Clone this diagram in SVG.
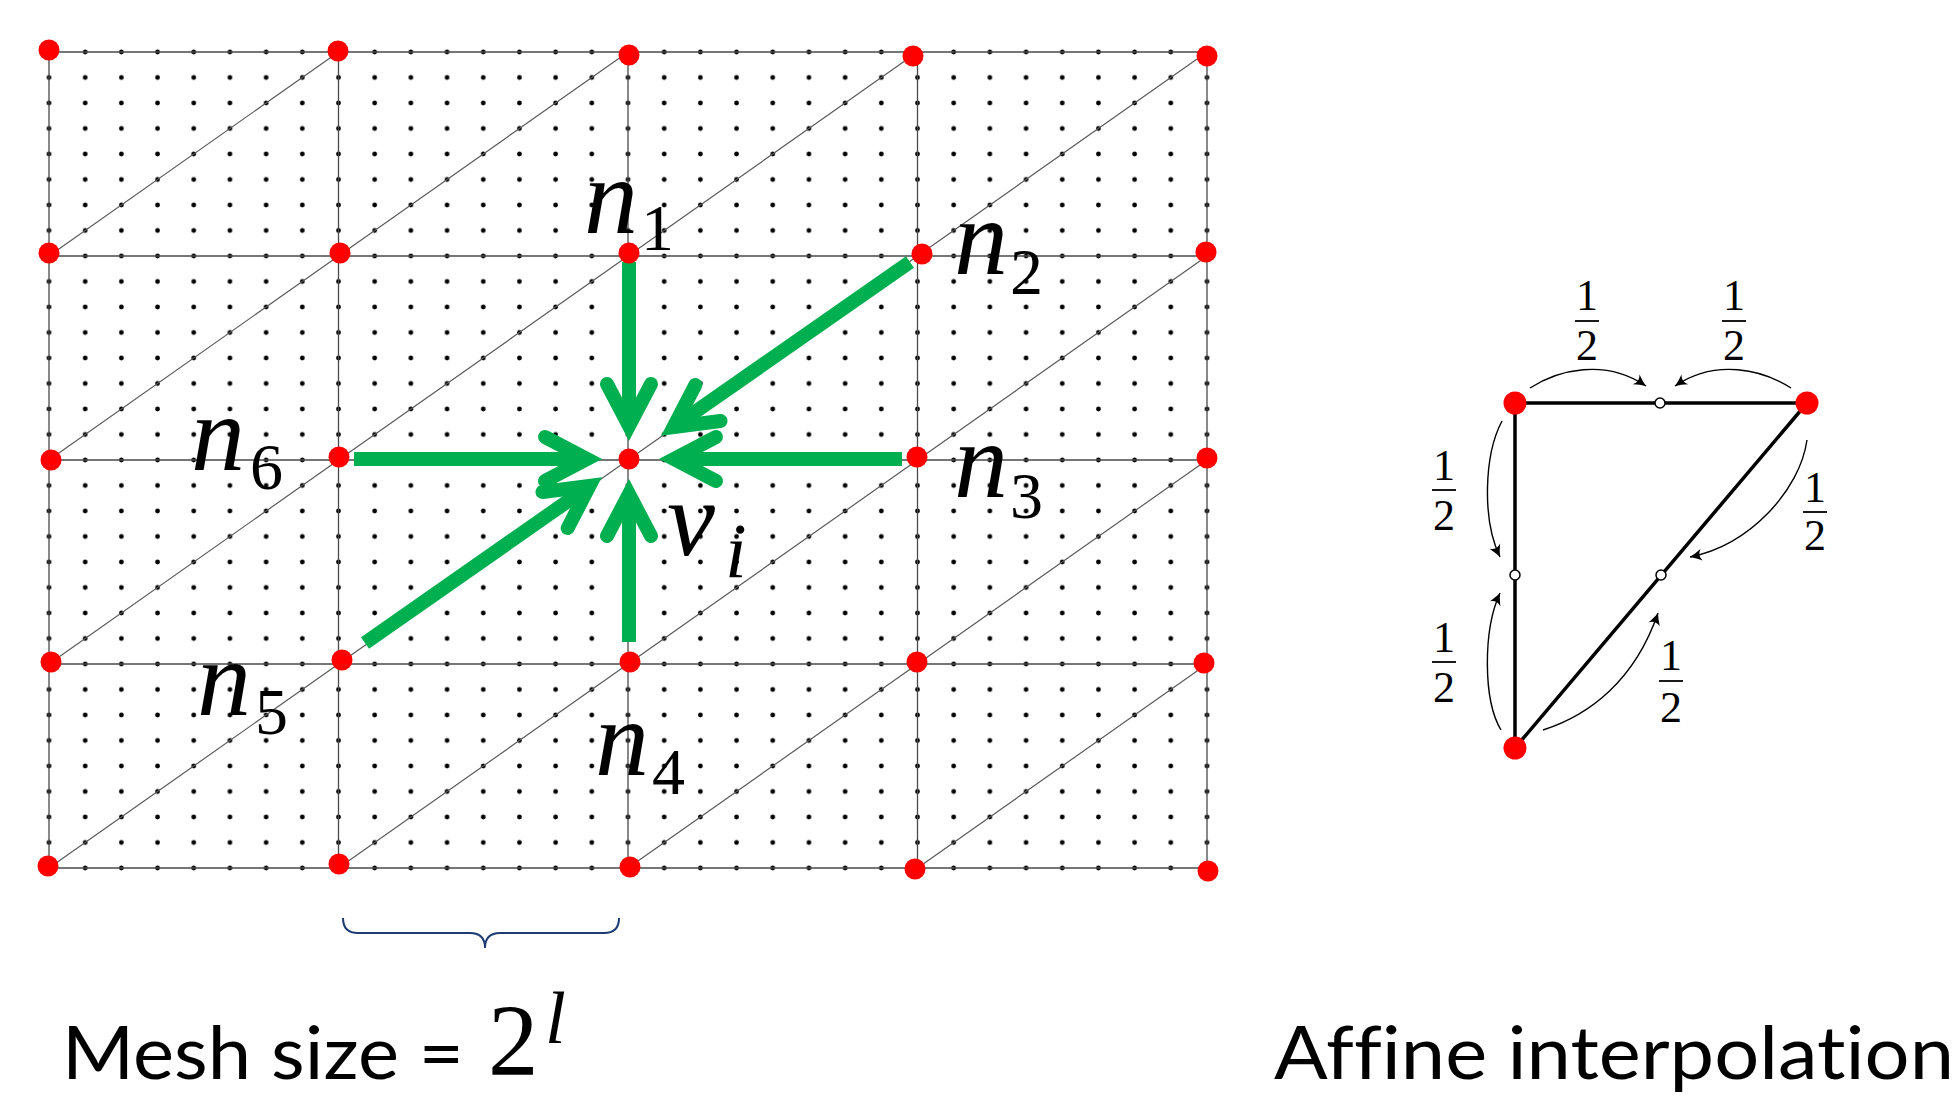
<svg xmlns="http://www.w3.org/2000/svg" width="1960" height="1097" viewBox="0 0 1960 1097">
<style>
.grid{stroke:#4a4a4a;stroke-width:1.3;fill:none}
.diag{stroke:#5a5a5a;stroke-width:1.2;fill:none}
.rd{fill:#FF0000}
.arr{stroke:#00B050;stroke-width:14;fill:none;marker-end:url(#ga)}
.mi{font-family:"Liberation Serif",serif;font-style:italic;font-size:108px;fill:#000}
.sub{font-family:"Liberation Serif",serif;font-size:66px;fill:#000}
.subi{font-family:"Liberation Serif",serif;font-style:italic;font-size:78px;fill:#000}
.frac{font-family:"Liberation Serif",serif;font-size:44px;text-anchor:middle;fill:#000}
.fbar{stroke:#000;stroke-width:1.8}
.tri{stroke:#000;stroke-width:3.5;fill:none}
.mid{fill:#fff;stroke:#000;stroke-width:1.5}
.arc{stroke:#000;stroke-width:1.4;fill:none;marker-end:url(#ka)}
.cap{font-family:Lato,"Open Sans","Liberation Sans",sans-serif;font-size:74px;fill:#000;font-variant-ligatures:none;font-feature-settings:"liga" 0,"dlig" 0,"clig" 0}
</style>
<defs>
<pattern id="dots" patternUnits="userSpaceOnUse" x="30.906" y="39.25" width="36.1875" height="25.5">
<circle cx="18.094" cy="12.75" r="2.4" fill="#000"/>
</pattern>
<marker id="ga" markerUnits="userSpaceOnUse" refX="0" refY="0" markerWidth="120" markerHeight="120" orient="auto" overflow="visible">
<path d="M-42,-22 L0,0 L-42,22" fill="none" stroke="#00B050" stroke-width="14" stroke-linecap="round" stroke-linejoin="miter" stroke-miterlimit="6"/>
</marker>
<marker id="ka" markerUnits="userSpaceOnUse" refX="0" refY="0" markerWidth="30" markerHeight="30" orient="auto" overflow="visible">
<path d="M0,0 C-4,-1.5 -8,-3.5 -12,-6 C-9,-2 -9,2 -12,6 C-8,3.5 -4,1.5 0,0 Z" fill="#000"/>
</marker>
</defs>
<rect width="1960" height="1097" fill="#fff"/>

<g id="mesh">
<rect x="30.906" y="39.25" width="1194.19" height="841.5" fill="url(#dots)"/>
<path class="grid" d="M49,52V868M338.5,52V868M628,52V868M917.5,52V868M1207,52V868M49,52H1207M49,256H1207M49,460H1207M49,664H1207M49,868H1207"/>
<path class="diag" d="M49,256L338.5,52M338.5,256L628,52M628,256L917.5,52M917.5,256L1207,52
M49,460L338.5,256M338.5,460L628,256M628,460L917.5,256M917.5,460L1207,256
M49,664L338.5,460M338.5,664L628,460M628,664L917.5,460M917.5,664L1207,460
M49,868L338.5,664M338.5,868L628,664M628,868L917.5,664M917.5,868L1207,664"/>
</g>

<g id="connectors">
<path class="arr" d="M629,262 L629,426"/>
<path class="arr" d="M910,262 L673.5,427"/>
<path class="arr" d="M902,459 L674,459"/>
<path class="arr" d="M629,642 L629,494"/>
<path class="arr" d="M365,643 L589.5,486"/>
<path class="arr" d="M354,459 L587,459"/>
</g>

<g id="vertices">
<g id="p00"><circle class="rd" cx="49" cy="50" r="10.5"/></g>
<g id="p10"><circle class="rd" cx="338" cy="51" r="10.5"/></g>
<g id="p20"><circle class="rd" cx="629" cy="55" r="10.5"/></g>
<g id="p30"><circle class="rd" cx="913" cy="56" r="10.5"/></g>
<g id="p40"><circle class="rd" cx="1207" cy="56" r="10.5"/></g>
<g id="p01"><circle class="rd" cx="49" cy="253" r="10.5"/></g>
<g id="p11"><circle class="rd" cx="340" cy="253" r="10.5"/></g>
<g id="p41"><circle class="rd" cx="1206" cy="252" r="10.5"/></g>
<g id="p02"><circle class="rd" cx="51" cy="460" r="10.5"/></g>
<g id="p42"><circle class="rd" cx="1207" cy="458" r="10.5"/></g>
<g id="p03"><circle class="rd" cx="51" cy="662" r="10.5"/></g>
<g id="p33"><circle class="rd" cx="917" cy="662" r="10.5"/></g>
<g id="p43"><circle class="rd" cx="1204" cy="663" r="10.5"/></g>
<g id="p04"><circle class="rd" cx="48" cy="866" r="10.5"/></g>
<g id="p14"><circle class="rd" cx="339" cy="864" r="10.5"/></g>
<g id="p24"><circle class="rd" cx="630" cy="867" r="10.5"/></g>
<g id="p34"><circle class="rd" cx="915" cy="869" r="10.5"/></g>
<g id="p44"><circle class="rd" cx="1208" cy="871" r="10.5"/></g>
</g>

<g id="node-n1"><circle class="rd" cx="629" cy="253" r="10.5"/><text class="mi" x="584" y="233">n</text><text class="sub" x="641" y="250">1</text></g>
<g id="node-n2"><circle class="rd" cx="922" cy="254" r="10.5"/><text class="mi" x="954" y="274">n</text><text class="sub" x="1010" y="294">2</text></g>
<g id="node-n3"><circle class="rd" cx="917" cy="457" r="10.5"/><text class="mi" x="954" y="497">n</text><text class="sub" x="1010" y="518">3</text></g>
<g id="node-n4"><circle class="rd" cx="630" cy="662" r="10.5"/><text class="mi" x="595" y="775">n</text><text class="sub" x="652" y="794">4</text></g>
<g id="node-n5"><circle class="rd" cx="342" cy="660" r="10.5"/><text class="mi" x="197" y="715">n</text><text class="sub" x="255" y="734">5</text></g>
<g id="node-n6"><circle class="rd" cx="339" cy="457" r="10.5"/><text class="mi" x="191" y="470">n</text><text class="sub" x="250" y="489">6</text></g>
<g id="node-vi"><circle class="rd" cx="629" cy="459" r="10.5"/><text class="mi" x="667" y="555">v</text><text class="subi" x="725" y="577">i</text></g>

<g id="brace"><path d="M343,918 Q343,933 358,933 L470,933 Q485,933 485,948 Q485,933 500,933 L604,933 Q619,933 619,918" fill="none" stroke="#1F3B73" stroke-width="2"/></g>

<g id="caption-mesh">
<text class="cap" x="62" y="1079" textLength="402" lengthAdjust="spacingAndGlyphs">Mesh size =</text>
<text x="488" y="1075" font-family="'Liberation Serif',serif" font-size="101">2</text>
<text x="545" y="1043" font-family="'Liberation Serif',serif" font-style="italic" font-size="75">l</text>
</g>

<g id="affine">
<g id="tri-edges">
<path class="tri" d="M1515,403 L1807,403 M1515,403 L1515,748 L1807,403"/>
</g>
<g id="tri-arcs">
<path class="arc" d="M1530,388 C1558,370 1605,358 1646,386"/>
<path class="arc" d="M1791,388 C1763,370 1716,358 1675,386"/>
<path class="arc" d="M1502,421 C1484,455 1482,520 1500,557"/>
<path class="arc" d="M1501,730 C1483,700 1483,630 1500,593"/>
<path class="arc" d="M1807,440 C1800,490 1750,545 1690,557"/>
<path class="arc" d="M1543,730 C1590,715 1635,680 1658,613"/>
</g>
<g id="tri-a"><circle class="rd" cx="1515" cy="403" r="11.5"/></g>
<g id="tri-b"><circle class="rd" cx="1807" cy="403" r="11.5"/></g>
<g id="tri-c"><circle class="rd" cx="1515" cy="748" r="11.5"/></g>
<g id="mid-top"><circle class="mid" cx="1660" cy="403" r="5"/></g>
<g id="mid-left"><circle class="mid" cx="1515" cy="575" r="5"/></g>
<g id="mid-diag"><circle class="mid" cx="1661" cy="575" r="5"/></g>
<g id="frac-1"><text class="frac" x="1587" y="310">1</text><line class="fbar" x1="1575" y1="321" x2="1599" y2="321"/><text class="frac" x="1587" y="360">2</text></g>
<g id="frac-2"><text class="frac" x="1734" y="310">1</text><line class="fbar" x1="1722" y1="321" x2="1746" y2="321"/><text class="frac" x="1734" y="360">2</text></g>
<g id="frac-3"><text class="frac" x="1444" y="480">1</text><line class="fbar" x1="1432" y1="490" x2="1456" y2="490"/><text class="frac" x="1444" y="530">2</text></g>
<g id="frac-4"><text class="frac" x="1444" y="652">1</text><line class="fbar" x1="1432" y1="662" x2="1456" y2="662"/><text class="frac" x="1444" y="702">2</text></g>
<g id="frac-5"><text class="frac" x="1815" y="502">1</text><line class="fbar" x1="1803" y1="512" x2="1827" y2="512"/><text class="frac" x="1815" y="550">2</text></g>
<g id="frac-6"><text class="frac" x="1671" y="670">1</text><line class="fbar" x1="1659" y1="681" x2="1683" y2="681"/><text class="frac" x="1671" y="722">2</text></g>
</g>

<g id="caption-affine">
<text class="cap" x="1274" y="1079" textLength="680" lengthAdjust="spacingAndGlyphs">Affine interpolation</text>
</g>
</svg>
